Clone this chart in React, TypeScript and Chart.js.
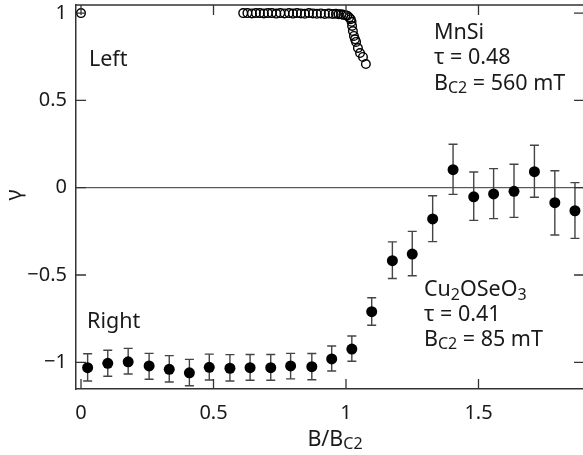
import React, { useEffect, useRef } from 'react';
import { Chart, registerables } from 'chart.js';

Chart.register(...registerables);

const xTicks = [0, 0.5, 1, 1.5];
const yTicks = [-1, -0.5, 0, 0.5, 1];

// Cu2OSeO3 (filled, "Right")
const cuX = [0.025, 0.101, 0.178, 0.257, 0.333, 0.409, 0.484, 0.562, 0.638, 0.716, 0.791, 0.871, 0.946, 1.022, 1.097, 1.175, 1.25, 1.327, 1.404, 1.482, 1.557, 1.634, 1.711, 1.788, 1.864];
const cuY = [-1.031, -1.006, -0.997, -1.021, -1.04, -1.06, -1.029, -1.034, -1.031, -1.031, -1.021, -1.025, -0.981, -0.924, -0.71, -0.418, -0.38, -0.179, 0.103, -0.052, -0.036, -0.021, 0.092, -0.086, -0.132];
const cuHigh = [-0.951, -0.931, -0.92, -0.949, -0.962, -0.983, -0.953, -0.956, -0.955, -0.955, -0.949, -0.95, -0.907, -0.849, -0.63, -0.31, -0.25, -0.046, 0.249, 0.09, 0.109, 0.134, 0.243, 0.097, 0.029];
const cuLow = [-1.107, -1.08, -1.067, -1.097, -1.113, -1.134, -1.101, -1.107, -1.103, -1.103, -1.095, -1.1, -1.05, -0.994, -0.788, -0.52, -0.504, -0.309, -0.038, -0.187, -0.177, -0.17, -0.055, -0.271, -0.29];

// MnSi (open, "Left")
const mnX = [0.0, 0.612, 0.628, 0.645, 0.66, 0.675, 0.69, 0.705, 0.72, 0.737, 0.752, 0.768, 0.785, 0.8, 0.815, 0.83, 0.845, 0.86, 0.875, 0.89, 0.905, 0.92, 0.935, 0.95, 0.962, 0.972, 0.982, 0.99, 0.998, 1.005, 1.012, 1.018, 1.021, 1.023, 1.026, 1.03, 1.034, 1.038, 1.045, 1.053, 1.064, 1.075];
const mnY = [1.0, 1.0, 1.0, 0.998, 1.0, 1.0, 0.998, 1.0, 1.0, 0.997, 1.0, 0.998, 1.0, 0.997, 1.0, 0.998, 0.996, 1.0, 0.998, 0.996, 0.998, 0.995, 0.997, 0.995, 0.996, 0.994, 0.993, 0.99, 0.988, 0.985, 0.975, 0.965, 0.95, 0.926, 0.897, 0.869, 0.85, 0.835, 0.8, 0.771, 0.749, 0.708];

const FONT = '"Noto Sans", sans-serif';
const TEXT = '#1a1a1a';
const FS = 20;
const AFS = 21.5;

type Run = { t: string; sub?: number };

function drawRich(ctx: CanvasRenderingContext2D, runs: Run[], x: number, y: number, size: number, align: 'left' | 'center' = 'left') {
  const sub = Math.round(size * 0.74);
  const widths = runs.map((r) => {
    ctx.font = `${r.sub ? sub : size}px ${FONT}`;
    return ctx.measureText(r.t).width;
  });
  const total = widths.reduce((a, b) => a + b, 0);
  let cx = align === 'center' ? x - total / 2 : x;
  ctx.textAlign = 'left';
  ctx.textBaseline = 'alphabetic';
  runs.forEach((r, i) => {
    ctx.font = `${r.sub ? sub : size}px ${FONT}`;
    ctx.fillText(r.t, cx, y + (r.sub ? size * r.sub : 0));
    cx += widths[i];
  });
}

const annotations: { x: number; y: number; runs: Run[] }[] = [
  { x: 0.03, y: 0.697, runs: [{ t: 'Left' }] },
  { x: 1.332, y: 0.852, runs: [{ t: 'MnSi' }] },
  { x: 1.332, y: 0.707, runs: [{ t: 'τ = 0.48' }] },
  { x: 1.332, y: 0.56, runs: [{ t: 'B' }, { t: 'C2', sub: 0.15 }, { t: ' = 560 mT' }] },
  { x: 0.023, y: -0.802, runs: [{ t: 'Right' }] },
  { x: 1.294, y: -0.62, runs: [{ t: 'Cu' }, { t: '2', sub: 0.2 }, { t: 'OSeO' }, { t: '3', sub: 0.2 }] },
  { x: 1.294, y: -0.762, runs: [{ t: 'τ = 0.41' }] },
  { x: 1.294, y: -0.907, runs: [{ t: 'B' }, { t: 'C2', sub: 0.15 }, { t: ' = 85 mT' }] },
];

const framePlugin = {
  id: 'frameExtras',
  beforeDatasetsDraw(chart: any) {
    const { ctx, chartArea: a, scales } = chart;
    const x = scales.x;
    const y = scales.y;
    ctx.save();
    const y0 = y.getPixelForValue(0);
    ctx.strokeStyle = '#333';
    ctx.lineWidth = 1;
    ctx.beginPath();
    ctx.moveTo(a.left, y0);
    ctx.lineTo(a.right, y0);
    ctx.stroke();
    ctx.strokeStyle = '#444';
    ctx.lineWidth = 1.4;
    cuX.forEach((xv, i) => {
      const px = x.getPixelForValue(xv);
      const lo = y.getPixelForValue(cuLow[i]);
      const hi = y.getPixelForValue(cuHigh[i]);
      ctx.beginPath();
      ctx.moveTo(px, lo);
      ctx.lineTo(px, hi);
      ctx.moveTo(px - 4.5, lo);
      ctx.lineTo(px + 4.5, lo);
      ctx.moveTo(px - 4.5, hi);
      ctx.lineTo(px + 4.5, hi);
      ctx.stroke();
    });
    ctx.restore();
  },
  afterDraw(chart: any) {
    const { ctx, chartArea: a, scales } = chart;
    const x = scales.x;
    const y = scales.y;
    ctx.save();
    ctx.strokeStyle = '#333';
    ctx.lineWidth = 1.5;
    ctx.beginPath();
    ctx.moveTo(a.left, a.top);
    ctx.lineTo(a.right, a.top);
    ctx.lineTo(a.right, a.bottom);
    ctx.stroke();
    ctx.lineWidth = 1.3;
    const TL = 10;
    ctx.beginPath();
    xTicks.forEach((v) => {
      const px = x.getPixelForValue(v);
      ctx.moveTo(px, a.bottom);
      ctx.lineTo(px, a.bottom - TL);
      ctx.moveTo(px, a.top);
      ctx.lineTo(px, a.top + TL);
    });
    yTicks.forEach((v) => {
      const py = y.getPixelForValue(v);
      ctx.moveTo(a.left, py);
      ctx.lineTo(a.left + TL, py);
      ctx.moveTo(a.right, py);
      ctx.lineTo(a.right - TL, py);
    });
    ctx.stroke();

    ctx.fillStyle = TEXT;
    annotations.forEach((an) => {
      drawRich(ctx, an.runs, x.getPixelForValue(an.x), y.getPixelForValue(an.y), AFS);
    });
    // x title
    drawRich(ctx, [{ t: 'B/B' }, { t: 'C2', sub: 0.15 }], (a.left + a.right) / 2 + 5, 446, AFS, 'center');
    // y title
    ctx.save();
    ctx.translate(21, (a.top + a.bottom) / 2 - 2);
    ctx.rotate(-Math.PI / 2);
    ctx.font = `${AFS}px ${FONT}`;
    ctx.textAlign = 'center';
    ctx.textBaseline = 'alphabetic';
    ctx.fillText('γ', 0, 0);
    ctx.restore();
    ctx.restore();
  },
};

const fmt = (v: number) => (v < 0 ? '\u2212' + Math.abs(v) : String(v));

export default function App() {
  const ref = useRef<HTMLCanvasElement | null>(null);
  useEffect(() => {
    document.body.style.margin = '0';
    document.body.style.overflow = 'hidden';
    if (!ref.current) return;
    const chart = new Chart(ref.current, {
      type: 'scatter',
      data: {
        datasets: [
          {
            label: 'MnSi',
            data: mnX.map((v, i) => ({ x: v, y: mnY[i] })),
            pointRadius: 4.3,
            pointBorderWidth: 1.4,
            pointBorderColor: '#000',
            pointBackgroundColor: 'rgba(255,255,255,0)',
            showLine: false,
          },
          {
            label: 'Cu2OSeO3',
            data: cuX.map((v, i) => ({ x: v, y: cuY[i] })),
            pointRadius: 5.5,
            pointBorderWidth: 0,
            pointBorderColor: '#000',
            pointBackgroundColor: '#000',
            showLine: false,
          },
        ],
      },
      options: {
        responsive: false,
        animation: false,
        layout: { autoPadding: false, padding: { top: 5, left: 0, right: 0, bottom: 0 } },
        plugins: { legend: { display: false }, tooltip: { enabled: false } },
        scales: {
          x: {
            type: 'linear',
            min: -0.0189,
            max: (584 - 81) / 265,
            grid: { display: false, drawTicks: false },
            border: { display: true, color: '#333', width: 1.5 },
            ticks: {
              font: { family: FONT, size: FS },
              color: TEXT,
              padding: 12,
              callback: (v: any) => fmt(Number(v)),
            },
            afterBuildTicks: (s: any) => {
              s.ticks = xTicks.map((v) => ({ value: v }));
            },
            afterFit: (s: any) => {
              s.height = 66;
              s.paddingLeft = 0;
              s.paddingRight = 0;
            },
          },
          y: {
            type: 'linear',
            min: (187.7 - 389) / 174.6,
            max: (187.7 - 5) / 174.6,
            grid: { display: false, drawTicks: false },
            border: { display: true, color: '#333', width: 1.5 },
            ticks: {
              font: { family: FONT, size: FS },
              color: TEXT,
              padding: 9,
              callback: (v: any) => fmt(Number(v)),
            },
            afterBuildTicks: (s: any) => {
              s.ticks = yTicks.map((v) => ({ value: v }));
            },
            afterFit: (s: any) => {
              s.width = 76;
              s.paddingTop = 0;
              s.paddingBottom = 0;
            },
          },
        },
      },
      plugins: [framePlugin],
    } as any);
    return () => chart.destroy();
  }, []);
  return (
    <div style={{ width: 583, height: 455, overflow: 'hidden' }}>
      <canvas ref={ref} width={584} height={455} style={{ display: 'block' }} />
    </div>
  );
}
